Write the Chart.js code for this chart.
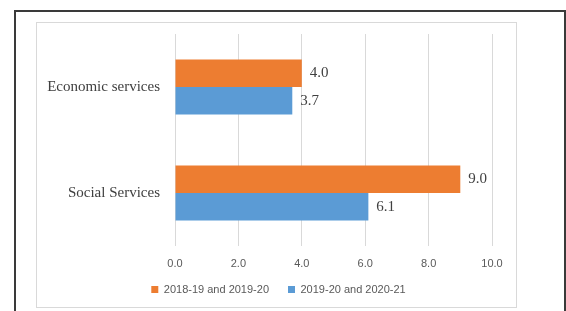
<!DOCTYPE html>
<html>
<head>
<meta charset="utf-8">
<script src="https://cdn.jsdelivr.net/npm/chart.js@4"></script>
<style>
  html, body { margin: 0; padding: 0; background: #fff; width: 566px; height: 311px; overflow: hidden; }
  #frame { position: absolute; left: 14px; top: 10px; width: 548px; height: 320px; border: 2px solid #3a3a3a; }
  #box { position: absolute; left: 36px; top: 22px; width: 479px; height: 284px; border: 1px solid #d9d9d9; }
  #myChart { display: block; }
</style>
</head>
<body>
<div id="frame"></div>
<div id="box"><canvas id="myChart" width="483" height="284"></canvas></div>
<script>
var categories = ['Economic services', 'Social Services'];
var series1Name = '2018-19 and 2019-20';
var series2Name = '2019-20 and 2020-21';
var series1 = [4.0, 9.0];
var series2 = [3.7, 6.1];
var xTicks = [0, 2, 4, 6, 8, 10];

// labels next to bar ends
const valueLabels = {
  id: 'valueLabels',
  afterLayout(chart) {
    // let the x tick labels hang below the (shortened) axis box without being clipped
    chart.scales.x.bottom += 12;
  },
  afterDatasetsDraw(chart) {
    var ctx = chart.ctx;
    ctx.save();
    ctx.font = '15px "Liberation Serif", "Times New Roman", serif';
    ctx.fillStyle = '#404040';
    ctx.textAlign = 'left';
    ctx.textBaseline = 'middle';
    chart.data.datasets.forEach(function(ds, i) {
      chart.getDatasetMeta(i).data.forEach(function(bar, j) {
        ctx.fillText(ds.data[j].toFixed(1), bar.x + 8, bar.y);
      });
    });
    ctx.restore();
  }
};

const data = {
  labels: categories,
  datasets: [{
    label: series1Name,
    backgroundColor: '#ED7D31',
    data: series1,
  }, {
    label: series2Name,
    backgroundColor: '#5B9BD5',
    data: series2,
  }]
};

const config = {
  type: 'bar',
  data: data,
  options: {
    indexAxis: 'y',
    responsive: false,
    animation: false,
    layout: { padding: { top: 0, left: 0, right: 0, bottom: 2 } },
    datasets: { bar: { categoryPercentage: 0.52, barPercentage: 1.0 } },
    scales: {
      x: {
        min: 0, max: 10,
        afterBuildTicks: function(scale) { scale.ticks = xTicks.map(function(v) { return { value: v }; }); },
        afterFit: function(scale) { scale.height = 19; },
        grid: { color: '#d9d9d9', drawTicks: false, lineWidth: 1 },
        border: { display: false },
        ticks: {
          padding: 11,
          color: '#595959',
          font: { family: '"Liberation Sans", Arial, sans-serif', size: 11 },
          callback: function(v) { return Number(v).toFixed(1); }
        }
      },
      y: {
        grid: { display: false },
        border: { display: false },
        afterFit: function(scale) {
          scale.width = 138;
          scale.paddingTop = 11;
          scale.paddingBottom = 0;
        },
        ticks: {
          padding: 7,
          color: '#404040',
          font: { family: '"Liberation Serif", "Times New Roman", serif', size: 15 }
        }
      },
      // empty right-hand spacer so the legend centres on the whole panel
      y2: {
        type: 'linear',
        position: 'right',
        grid: { display: false },
        border: { display: false },
        ticks: { display: false },
        afterFit: function(scale) { scale.width = 28; }
      }
    },
    plugins: {
      tooltip: { enabled: false },
      legend: {
        position: 'bottom',
        labels: {
          boxWidth: 7,
          boxHeight: 7,
          padding: 19,
          color: '#595959',
          font: { family: '"Liberation Sans", Arial, sans-serif', size: 11 }
        }
      }
    }
  },
  plugins: [valueLabels]
};

const myChart = new Chart(document.getElementById('myChart'), config);
</script>
</body>
</html>
